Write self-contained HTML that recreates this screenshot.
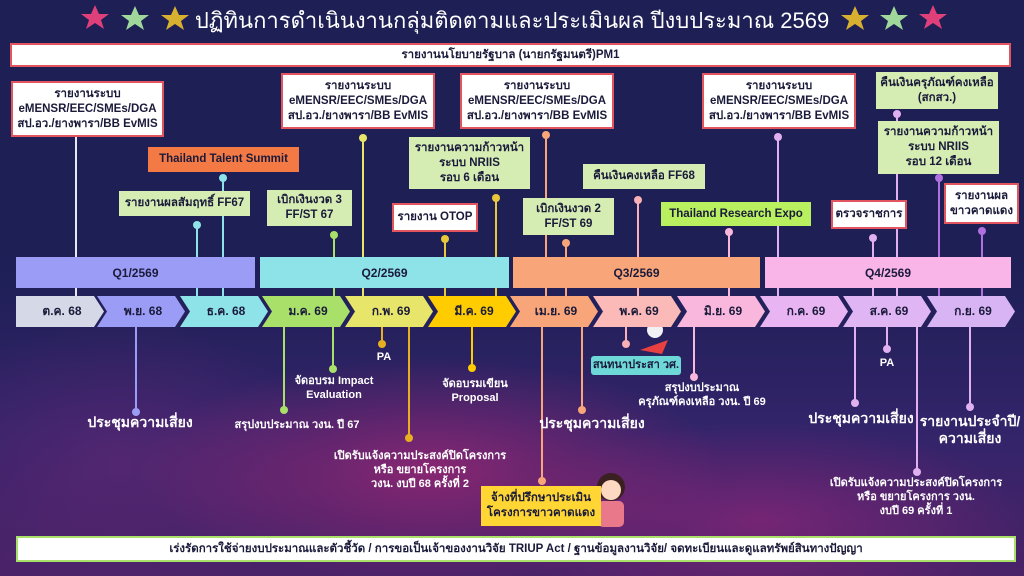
<!DOCTYPE html>
<html><head><meta charset="utf-8"><style>
*{margin:0;padding:0;box-sizing:border-box}
body{width:1024px;height:576px;overflow:hidden;font-family:"Liberation Sans","Noto Sans CJK SC",sans-serif;position:relative;
background:radial-gradient(ellipse 420px 160px at 430px 470px,rgba(200,40,120,.55),transparent 70%),
radial-gradient(ellipse 380px 140px at 760px 520px,rgba(180,40,130,.45),transparent 70%),
radial-gradient(ellipse 300px 200px at 120px 460px,rgba(110,40,120,.5),transparent 70%),
linear-gradient(#1d1f55 0%,#1d1f55 45%,#33246a 75%,#4a2268 100%)}
.b{position:absolute;display:flex;align-items:center;justify-content:center;text-align:center;font-weight:bold;font-size:11.5px;line-height:15px;color:#1a1a3a}
.w{background:#fff;border:2px solid #e2545e}
.g{background:#d5ecb3}
.t{position:absolute;color:#fff;font-weight:bold;text-align:center;font-size:11px;line-height:14px;white-space:nowrap;transform:translateX(-50%)}
.L{font-size:14px;line-height:17px}
.q{position:absolute;top:257px;height:31px;display:flex;align-items:center;justify-content:center;font-weight:bold;font-size:12px;color:#1a1a3a}
.m{position:absolute;top:296px;height:31px;width:88px;display:flex;align-items:center;justify-content:center;font-weight:bold;font-size:12px;color:#1a1a3a;clip-path:polygon(0 0,78px 0,88px 50%,78px 100%,0 100%,10px 50%);padding-left:4px}
svg{position:absolute;left:0;top:0}
</style></head><body>
<svg width="1024" height="576">
<g stroke-width="2">
<line x1="76" y1="137" x2="76" y2="296" stroke="#e6e6f5"/>
<line x1="223" y1="178" x2="223" y2="296" stroke="#8ee3e8"/>
<line x1="197" y1="225" x2="197" y2="296" stroke="#8ee3e8"/>
<line x1="363" y1="138" x2="363" y2="296" stroke="#e8e66a"/>
<line x1="334" y1="235" x2="334" y2="296" stroke="#a9e06a"/>
<line x1="496" y1="198" x2="496" y2="296" stroke="#e8c83a"/>
<line x1="445" y1="239" x2="445" y2="296" stroke="#e8c83a"/>
<line x1="546" y1="135" x2="546" y2="296" stroke="#f8a679"/>
<line x1="566" y1="243" x2="566" y2="296" stroke="#f8a679"/>
<line x1="638" y1="200" x2="638" y2="296" stroke="#fbb0b5"/>
<line x1="729" y1="232" x2="729" y2="296" stroke="#f9b7dd"/>
<line x1="778" y1="137" x2="778" y2="296" stroke="#e0b0f0"/>
<line x1="897" y1="114" x2="897" y2="296" stroke="#e0b0f0"/>
<line x1="939" y1="178" x2="939" y2="296" stroke="#b070e0"/>
<line x1="873" y1="238" x2="873" y2="296" stroke="#e0b0f0"/>
<line x1="982" y1="231" x2="982" y2="296" stroke="#b070e0"/>
<line x1="136" y1="327" x2="136" y2="412" stroke="#9b9cf5"/>
<line x1="284" y1="327" x2="284" y2="410" stroke="#a9e06a"/>
<line x1="333" y1="327" x2="333" y2="369" stroke="#a9e06a"/>
<line x1="382" y1="327" x2="382" y2="344" stroke="#e8b020"/>
<line x1="409" y1="327" x2="409" y2="438" stroke="#e8b020"/>
<line x1="472" y1="327" x2="472" y2="368" stroke="#ffcc00"/>
<line x1="542" y1="327" x2="542" y2="481" stroke="#f8a679"/>
<line x1="582" y1="327" x2="582" y2="410" stroke="#f8a679"/>
<line x1="626" y1="327" x2="626" y2="344" stroke="#fbb0b5"/>
<line x1="694" y1="327" x2="694" y2="377" stroke="#f9b7dd"/>
<line x1="855" y1="327" x2="855" y2="403" stroke="#e0b0f0"/>
<line x1="887" y1="327" x2="887" y2="349" stroke="#e0b0f0"/>
<line x1="917" y1="327" x2="917" y2="472" stroke="#e0b0f0"/>
<line x1="970" y1="327" x2="970" y2="407" stroke="#e0b0f0"/>
</g>
<g>
<circle cx="223" cy="178" r="4" fill="#8ee3e8"/><circle cx="197" cy="225" r="4" fill="#8ee3e8"/>
<circle cx="363" cy="138" r="4" fill="#e8e66a"/><circle cx="334" cy="235" r="4" fill="#a9e06a"/>
<circle cx="496" cy="198" r="4" fill="#e8c83a"/><circle cx="445" cy="239" r="4" fill="#e8c83a"/>
<circle cx="546" cy="135" r="4" fill="#f8a679"/><circle cx="566" cy="243" r="4" fill="#f8a679"/>
<circle cx="638" cy="200" r="4" fill="#fbb0b5"/><circle cx="729" cy="232" r="4" fill="#f9b7dd"/>
<circle cx="778" cy="137" r="4" fill="#e0b0f0"/><circle cx="897" cy="114" r="4" fill="#e0b0f0"/>
<circle cx="939" cy="178" r="4" fill="#b070e0"/><circle cx="873" cy="238" r="4" fill="#e0b0f0"/>
<circle cx="982" cy="231" r="4" fill="#b070e0"/>
<circle cx="136" cy="412" r="4" fill="#9b9cf5"/><circle cx="284" cy="410" r="4" fill="#a9e06a"/>
<circle cx="333" cy="369" r="4" fill="#a9e06a"/><circle cx="382" cy="344" r="4" fill="#e8b020"/>
<circle cx="409" cy="438" r="4" fill="#e8b020"/><circle cx="472" cy="368" r="4" fill="#ffcc00"/>
<circle cx="542" cy="481" r="4" fill="#f8a679"/><circle cx="582" cy="410" r="4" fill="#f8a679"/>
<circle cx="626" cy="344" r="4" fill="#fbb0b5"/><circle cx="694" cy="377" r="4" fill="#f9b7dd"/>
<circle cx="855" cy="403" r="4" fill="#e0b0f0"/><circle cx="887" cy="349" r="4" fill="#e0b0f0"/>
<circle cx="917" cy="472" r="4" fill="#e0b0f0"/><circle cx="970" cy="407" r="4" fill="#e0b0f0"/>
</g>
<g>
<polygon points="95,5 99,14 109,14 101,20 104,29 95,23 86,29 89,20 81,14 91,14" fill="#e0407a"/>
<polygon points="135,6 139,15 149,15 141,21 144,30 135,24 126,30 129,21 121,15 131,15" fill="#9fd89a"/>
<polygon points="175,6 179,15 189,15 181,21 184,30 175,24 166,30 169,21 161,15 171,15" fill="#d8b030"/>
<polygon points="855,6 859,15 869,15 861,21 864,30 855,24 846,30 849,21 841,15 851,15" fill="#d8b030"/>
<polygon points="894,6 898,15 908,15 900,21 903,30 894,24 885,30 888,21 880,15 890,15" fill="#9fd89a"/>
<polygon points="933,5 937,14 947,14 939,20 942,29 933,23 924,29 927,20 919,14 929,14" fill="#e0407a"/>
</g>
<circle cx="611" cy="487" r="14" fill="#3a2020"/><circle cx="611" cy="490" r="10" fill="#fcd9c0"/>
<rect x="598" y="501" width="26" height="26" rx="5" fill="#e8788a"/>
<circle cx="655" cy="330" r="8" fill="#f0f0f5"/><path d="M640 350 L668 340 L662 354 Z" fill="#e84040"/>
</svg>
<div class="t" style="left:512px;top:7px;font-size:22px;line-height:28px;font-weight:normal">ปฏิทินการดำเนินงานกลุ่มติดตามและประเมินผล ปีงบประมาณ 2569</div>
<div class="b w" style="left:10px;top:43px;width:1001px;height:24px">รายงานนโยบายรัฐบาล (นายกรัฐมนตรี)PM1</div>
<div class="b w" style="left:11px;top:81px;width:153px;height:56px">รายงานระบบ<br>eMENSR/EEC/SMEs/DGA<br>สป.อว./ยางพารา/BB EvMIS</div>
<div class="b" style="left:148px;top:147px;width:151px;height:25px;background:#f47a45">Thailand Talent Summit</div>
<div class="b g" style="left:119px;top:191px;width:131px;height:25px">รายงานผลสัมฤทธิ์ FF67</div>
<div class="b w" style="left:281px;top:73px;width:154px;height:56px">รายงานระบบ<br>eMENSR/EEC/SMEs/DGA<br>สป.อว./ยางพารา/BB EvMIS</div>
<div class="b g" style="left:267px;top:190px;width:85px;height:36px">เบิกเงินงวด 3<br>FF/ST 67</div>
<div class="b g" style="left:409px;top:137px;width:121px;height:52px">รายงานความก้าวหน้า<br>ระบบ NRIIS<br>รอบ 6 เดือน</div>
<div class="b w" style="left:392px;top:203px;width:86px;height:29px">รายงาน OTOP</div>
<div class="b w" style="left:460px;top:73px;width:154px;height:56px">รายงานระบบ<br>eMENSR/EEC/SMEs/DGA<br>สป.อว./ยางพารา/BB EvMIS</div>
<div class="b g" style="left:523px;top:198px;width:91px;height:37px">เบิกเงินงวด 2<br>FF/ST 69</div>
<div class="b g" style="left:583px;top:164px;width:122px;height:25px">คืนเงินคงเหลือ FF68</div>
<div class="b" style="left:661px;top:202px;width:150px;height:24px;background:#b8f060">Thailand Research Expo</div>
<div class="b w" style="left:702px;top:73px;width:154px;height:56px">รายงานระบบ<br>eMENSR/EEC/SMEs/DGA<br>สป.อว./ยางพารา/BB EvMIS</div>
<div class="b g" style="left:876px;top:72px;width:122px;height:37px">คืนเงินครุภัณฑ์คงเหลือ<br>(สกสว.)</div>
<div class="b g" style="left:878px;top:121px;width:121px;height:53px">รายงานความก้าวหน้า<br>ระบบ NRIIS<br>รอบ 12 เดือน</div>
<div class="b w" style="left:831px;top:200px;width:76px;height:29px">ตรวจราชการ</div>
<div class="b w" style="left:944px;top:183px;width:75px;height:41px">รายงานผล<br>ขาวคาดแดง</div>
<div class="q" style="left:16px;width:239px;background:#9b9cf5">Q1/2569</div>
<div class="q" style="left:260px;width:249px;background:#8ee3e8">Q2/2569</div>
<div class="q" style="left:513px;width:247px;background:#f8a679">Q3/2569</div>
<div class="q" style="left:765px;width:246px;background:#f9b5e8">Q4/2569</div>
<div class="m" style="left:16px;background:#d5d8e6;clip-path:polygon(0 0,78px 0,88px 50%,78px 100%,0 100%)">ต.ค. 68</div>
<div class="m" style="left:97px;background:#9b9cf5">พ.ย. 68</div>
<div class="m" style="left:180px;background:#8ee3e8">ธ.ค. 68</div>
<div class="m" style="left:262px;background:#a9e06a">ม.ค. 69</div>
<div class="m" style="left:345px;background:#e8e66a">ก.พ. 69</div>
<div class="m" style="left:428px;background:#ffcc00">มี.ค. 69</div>
<div class="m" style="left:510px;background:#f8a679">เม.ย. 69</div>
<div class="m" style="left:593px;background:#fbbab8">พ.ค. 69</div>
<div class="m" style="left:677px;background:#f9b7dd">มิ.ย. 69</div>
<div class="m" style="left:760px;background:#e8b5f2">ก.ค. 69</div>
<div class="m" style="left:843px;background:#dfb5f3">ส.ค. 69</div>
<div class="m" style="left:927px;background:#d9b4f5">ก.ย. 69</div>
<div class="t L" style="left:140px;top:414px">ประชุมความเสี่ยง</div>
<div class="t" style="left:297px;top:418px">สรุปงบประมาณ วงน. ปี 67</div>
<div class="t" style="left:334px;top:374px">จัดอบรม Impact<br>Evaluation</div>
<div class="t" style="left:384px;top:350px">PA</div>
<div class="t" style="left:420px;top:449px">เปิดรับแจ้งความประสงค์ปิดโครงการ<br>หรือ ขยายโครงการ<br>วงน. งบปี 68 ครั้งที่ 2</div>
<div class="t" style="left:475px;top:377px">จัดอบรมเขียน<br>Proposal</div>
<div class="b" style="left:481px;top:486px;width:120px;height:40px;background:#ffd633">จ้างที่ปรึกษาประเมิน<br>โครงการขาวคาดแดง</div>
<div class="t L" style="left:592px;top:415px">ประชุมความเสี่ยง</div>
<div class="b" style="left:591px;top:356px;width:90px;height:19px;background:#6ed8d8;border-radius:3px;font-size:11px">สนทนาประสา วศ.</div>
<div class="t" style="left:702px;top:381px">สรุปงบประมาณ<br>ครุภัณฑ์คงเหลือ วงน. ปี 69</div>
<div class="t L" style="left:861px;top:410px">ประชุมความเสี่ยง</div>
<div class="t" style="left:887px;top:356px">PA</div>
<div class="t" style="left:916px;top:476px">เปิดรับแจ้งความประสงค์ปิดโครงการ<br>หรือ ขยายโครงการ วงน.<br>งบปี 69 ครั้งที่ 1</div>
<div class="t L" style="left:970px;top:413px">รายงานประจำปี/<br>ความเสี่ยง</div>
<div class="b" style="left:16px;top:536px;width:1000px;height:26px;background:#fff;border:2px solid #a9e06a">เร่งรัดการใช้จ่ายงบประมาณและตัวชี้วัด / การขอเป็นเจ้าของงานวิจัย TRIUP Act / ฐานข้อมูลงานวิจัย/ จดทะเบียนและดูแลทรัพย์สินทางปัญญา</div>
</body></html>
